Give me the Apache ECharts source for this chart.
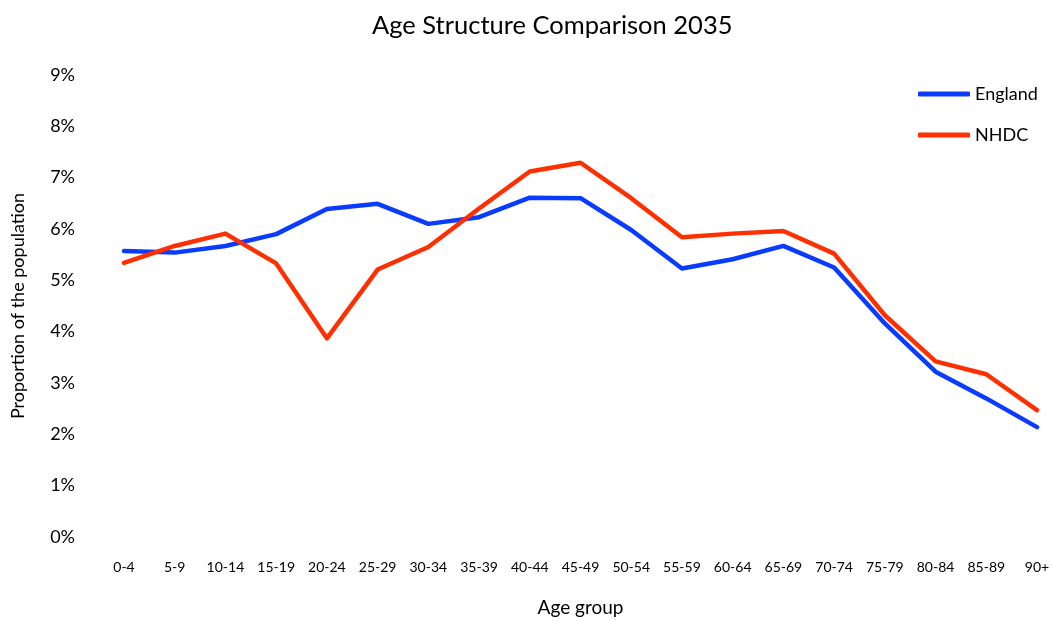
<!DOCTYPE html>
<html>
<head>
<meta charset="utf-8">
<script src="https://cdn.jsdelivr.net/npm/echarts@6/dist/echarts.min.js"></script>
<style>
html,body{margin:0;padding:0;background:#fff;}
#chart{width:1053px;height:622px;}
</style>
</head>
<body>
<div id="chart"></div>
<script>
var categories = ['0-4','5-9','10-14','15-19','20-24','25-29','30-34','35-39','40-44','45-49','50-54','55-59','60-64','65-69','70-74','75-79','80-84','85-89','90+'];
var england = [5.57,5.54,5.67,5.90,6.39,6.49,6.10,6.23,6.61,6.60,5.98,5.23,5.41,5.67,5.25,4.16,3.22,2.70,2.14];
var nhdc = [5.34,5.67,5.91,5.33,3.87,5.21,5.65,6.40,7.12,7.29,6.60,5.84,5.91,5.96,5.52,4.32,3.42,3.17,2.47];
var yTicks = [0,1,2,3,4,5,6,7,8,9];

var FONT = 'Lato, "Open Sans", sans-serif';
var chart = echarts.init(document.getElementById('chart'));
chart.setOption({
  animation: false,
  backgroundColor: '#fff',
  title: {
    text: 'Age Structure Comparison 2035',
    left: 367, top: 8,
    textStyle: {fontFamily: FONT, fontSize: 25.5, fontWeight: 'normal', color: '#000'}
  },
  legend: {
    orient: 'vertical',
    left: 913, top: 80,
    icon: 'roundRect',
    itemWidth: 52, itemHeight: 5, itemGap: 23,
    textStyle: {fontFamily: FONT, fontSize: 18, color: '#000'},
    data: ['England','NHDC']
  },
  grid: {left: 124, right: 16, top: 75, bottom: 85, containLabel: false, outerBoundsMode: 'none'},
  xAxis: {
    type: 'category',
    data: categories,
    boundaryGap: false,
    name: 'Age group',
    nameLocation: 'middle',
    nameGap: 61,
    nameMoveOverlap: false,
    nameTextStyle: {fontFamily: FONT, fontSize: 19, color: '#000'},
    axisLine: {show: false},
    axisTick: {show: false},
    axisLabel: {fontFamily: FONT, fontSize: 14, color: '#000', margin: 23, interval: 0}
  },
  yAxis: {
    type: 'value',
    min: yTicks[0], max: yTicks[yTicks.length-1], interval: 1,
    name: 'Proportion of the population',
    nameLocation: 'middle',
    nameGap: 97,
    nameMoveOverlap: false,
    nameTextStyle: {fontFamily: FONT, fontSize: 18, color: '#000'},
    axisLine: {show: false},
    axisTick: {show: false},
    splitLine: {show: false},
    axisLabel: {fontFamily: FONT, fontSize: 18, color: '#000', margin: 49, formatter: '{value}%'}
  },
  series: [
    {name: 'England', type: 'line', data: england, symbol: 'none',
     lineStyle: {color: '#0a3cff', width: 4.5, cap: 'round', join: 'round'}, itemStyle: {color: '#0a3cff'}},
    {name: 'NHDC', type: 'line', data: nhdc, symbol: 'none',
     lineStyle: {color: '#ff3000', width: 4.5, cap: 'round', join: 'round'}, itemStyle: {color: '#ff3000'}}
  ]
});
</script>
</body>
</html>
